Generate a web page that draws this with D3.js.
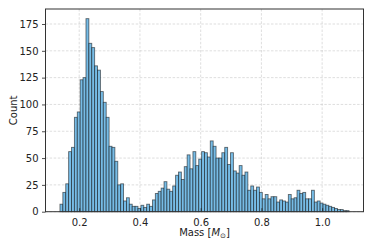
<!DOCTYPE html>
<html>
<head>
<meta charset="utf-8">
<script src="https://cdn.jsdelivr.net/npm/d3@7"></script>
<style>
  body { margin: 0; background: #fff; }
  text { font-family: "DejaVu Sans", sans-serif; }
</style>
</head>
<body>
<div id="chart"></div>
<script>
// histogram counts, 100 bins
var counts = [
    7, 18, 26, 56, 60, 88, 93, 123, 125, 180,
    157, 153, 136, 132, 112, 102, 88, 61, 60, 47,
    25, 26, 10, 13, 7, 5, 5, 3, 6, 4,
    7, 5, 11, 17, 19, 22, 28, 21, 19, 24,
    34, 37, 30, 42, 53, 40, 56, 43, 49, 56,
    55, 51, 66, 61, 50, 50, 55, 60, 44, 55,
    38, 36, 43, 34, 37, 20, 24, 20, 23, 18,
    12, 16, 12, 14, 14, 9, 11, 10, 9, 16,
    12, 13, 20, 17, 18, 12, 12, 20, 9, 10,
    8, 7, 6, 5, 4, 3, 2, 2, 1, 1
];
var binStart = 0.1366;
var binWidth = 0.00952;
var xTicks = [0.2, 0.4, 0.6, 0.8, 1.0];
var yTicks = [0, 25, 50, 75, 100, 125, 150, 175];

var bins = counts.map(function(c, i) {
    return { x0: binStart + i * binWidth, x1: binStart + (i + 1) * binWidth, count: c };
});

const chart_width = 373;
const chart_height = 249;
const margin = { top: 9, right: 9.5, bottom: 37.3, left: 45.5 };
const w = chart_width - margin.left - margin.right;
const h = chart_height - margin.top - margin.bottom;

var svg = d3.select('#chart')
    .append('svg')
    .attr('width', chart_width)
    .attr('height', chart_height);

var g = svg.append('g')
    .attr('transform', 'translate(' + margin.left + ',' + margin.top + ')');

var xMin = bins[0].x0, xMax = bins[bins.length - 1].x1;
var pad = (xMax - xMin) * 0.05;
var x = d3.scaleLinear().domain([xMin - pad, xMax + pad]).range([0, w]);
var y = d3.scaleLinear().domain([0, d3.max(counts) * 1.05]).range([h, 0]);

// grid
g.append('g').selectAll('line.gx')
    .data(xTicks)
    .enter()
    .append('line')
    .attr('x1', d => x(d)).attr('x2', d => x(d))
    .attr('y1', 0).attr('y2', h)
    .attr('stroke', '#b0b0b0')
    .attr('stroke-width', 0.6)
    .attr('stroke-opacity', 0.7)
    .attr('stroke-dasharray', '2.5,1.6');

g.append('g').selectAll('line.gy')
    .data(yTicks)
    .enter()
    .append('line')
    .attr('y1', d => y(d)).attr('y2', d => y(d))
    .attr('x1', 0).attr('x2', w)
    .attr('stroke', '#b0b0b0')
    .attr('stroke-width', 0.6)
    .attr('stroke-opacity', 0.7)
    .attr('stroke-dasharray', '2.5,1.6');

// bars
g.append('g').selectAll('rect')
    .data(bins)
    .enter()
    .append('rect')
    .attr('x', d => x(d.x0))
    .attr('y', d => y(d.count))
    .attr('width', d => x(d.x1) - x(d.x0))
    .attr('height', d => y(0) - y(d.count))
    .attr('fill', '#77bce6')
    .attr('stroke', '#000')
    .attr('stroke-opacity', 0.55)
    .attr('stroke-width', 0.9);

// axes
var xAxis = d3.axisBottom(x).tickValues(xTicks).tickFormat(d3.format('.1f'))
    .tickSizeInner(-3.5).tickSizeOuter(0).tickPadding(7.5);
var yAxis = d3.axisLeft(y).tickValues(yTicks)
    .tickSizeInner(3.5).tickSizeOuter(0).tickPadding(3.5);

var gx = g.append('g').attr('transform', 'translate(0,' + h + ')').call(xAxis);
var gy = g.append('g').call(yAxis);
[gx, gy].forEach(function(a) {
    a.select('.domain').remove();
    a.selectAll('.tick line').attr('stroke', '#222').attr('stroke-width', 0.8);
    a.selectAll('.tick text').attr('font-size', 10).attr('fill', '#222')
        .attr('font-family', '"DejaVu Sans", sans-serif');
});

// frame
g.append('rect')
    .attr('x', 0).attr('y', 0)
    .attr('width', w).attr('height', h)
    .attr('fill', 'none')
    .attr('stroke', '#333')
    .attr('stroke-width', 1);

// labels
var xl = svg.append('text')
    .attr('x', margin.left + w / 2)
    .attr('y', 236)
    .attr('text-anchor', 'middle')
    .attr('font-size', 10)
    .attr('fill', '#222');
xl.append('tspan').text('Mass [');
xl.append('tspan').attr('font-style', 'italic').text('M');
xl.append('tspan').attr('font-size', 7).attr('dy', 2).text('\u2299');
xl.append('tspan').attr('dy', -2).text(']');

svg.append('text')
    .attr('transform', 'translate(17,' + (margin.top + h / 2) + ') rotate(-90)')
    .attr('text-anchor', 'middle')
    .attr('font-size', 10)
    .attr('fill', '#222')
    .text('Count');
</script>
</body>
</html>
